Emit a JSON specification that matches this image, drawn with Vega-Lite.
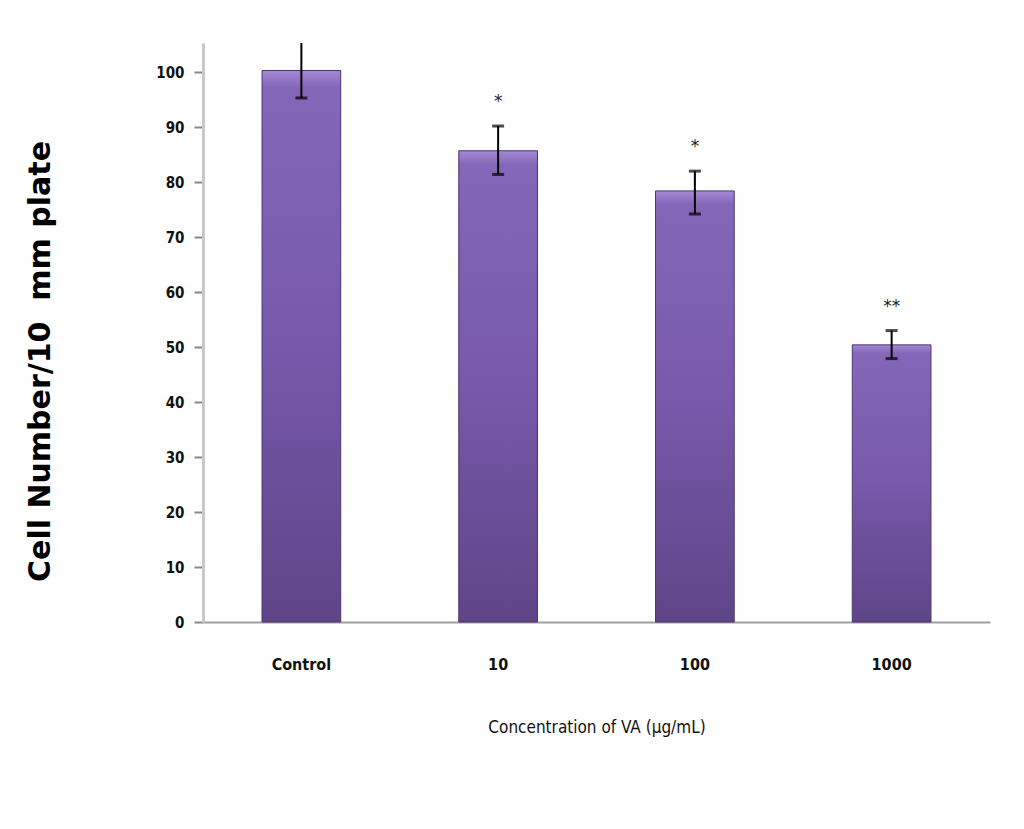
{
  "$schema": "https://vega.github.io/schema/vega-lite/v6.json",
  "width": 787,
  "height": 579,
  "autosize": "none",
  "padding": {"left": 203, "top": 43, "right": 34, "bottom": 207},
  "background": "white",
  "config": {"view": {"stroke": null}, "font": "DejaVu Sans Condensed"},
  "data": {"values": [
    {"group": "Control", "mean": 100.3, "lower": 95.3, "upper": 106, "sig": ""},
    {"group": "10", "mean": 85.7, "lower": 81.4, "upper": 90.2, "sig": "*"},
    {"group": "100", "mean": 78.4, "lower": 74.2, "upper": 82.0, "sig": "*"},
    {"group": "1000", "mean": 50.4, "lower": 47.9, "upper": 53.0, "sig": "**"}
  ]},
  "encoding": {
    "x": {"field": "group", "type": "nominal", "sort": null,
      "scale": {"paddingInner": 0.6, "paddingOuter": 0.3},
      "axis": {"title": "Concentration of VA (µg/mL)", "labelAngle": 0, "ticks": false, "domainColor": "#a0a0a0", "domainWidth": 2,
        "labelFont": "DejaVu Sans Condensed", "labelFontSize": 16, "labelFontWeight": "bold", "labelColor": "#111", "labelPadding": 34,
        "titleFont": "DejaVu Sans Condensed", "titleFontSize": 17, "titleFontWeight": "normal", "titleColor": "#111", "titlePadding": 47}}
  },
  "layer": [
    {
      "mark": {"type": "bar", "stroke": "#4a3670", "strokeWidth": 1,
        "fill": {"gradient": "linear", "x1": 0, "y1": 0, "x2": 0, "y2": 1,
          "stops": [{"offset": 0, "color": "#a58ad6"}, {"offset": 0.03, "color": "#8467b8"}, {"offset": 0.5, "color": "#7758aa"}, {"offset": 1, "color": "#5f4588"}]}},
      "encoding": {
        "y": {"field": "mean", "type": "quantitative",
          "scale": {"domain": [0, 105.3], "nice": false},
          "axis": {"values": [0, 10, 20, 30, 40, 50, 60, 70, 80, 90, 100], "grid": false, "title": "Cell Number/10\u00a0\u00a0mm plate",
            "domainColor": "#c8c8c8", "domainWidth": 3, "tickColor": "#888", "tickSize": 9, "tickWidth": 2,
            "labelFont": "DejaVu Sans Condensed", "labelFontSize": 15, "labelFontWeight": "bold", "labelColor": "#111", "labelPadding": 10,
            "titleFont": "DejaVu Sans", "titleFontSize": 30, "titleFontWeight": "bold", "titleColor": "#000", "titlePadding": 100, "titleY": 318}}
      }
    },
    {
      "mark": {"type": "rule", "color": "black", "strokeWidth": 2, "clip": true},
      "encoding": {"y": {"field": "lower", "type": "quantitative"}, "y2": {"field": "upper"}}
    },
    {
      "mark": {"type": "tick", "color": "black", "thickness": 3, "size": 12, "clip": true},
      "encoding": {"y": {"field": "lower", "type": "quantitative"}}
    },
    {
      "mark": {"type": "tick", "color": "black", "thickness": 3, "size": 12, "clip": true},
      "encoding": {"y": {"field": "upper", "type": "quantitative"}}
    },
    {
      "mark": {"type": "text", "dy": -24, "baseline": "middle", "fontSize": 17, "color": "#222", "font": "DejaVu Sans"},
      "encoding": {"y": {"field": "upper", "type": "quantitative"}, "text": {"field": "sig"}}
    }
  ]
}
